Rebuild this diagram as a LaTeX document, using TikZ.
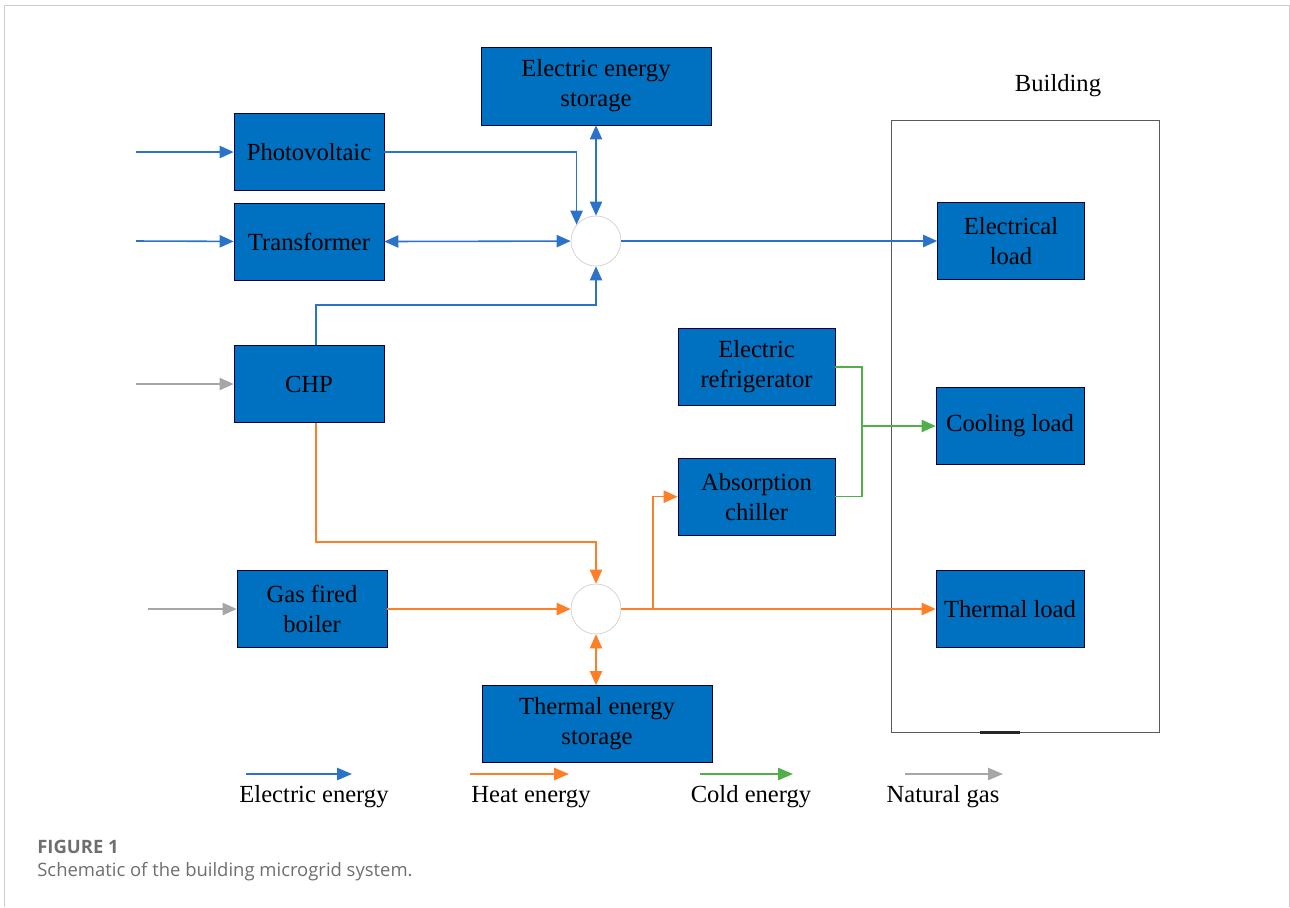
\documentclass[tikz,border=0pt]{standalone}
\usepackage{fontspec}
\setmainfont{Liberation Serif}
\newfontfamily\capfont{Open Sans}
\usetikzlibrary{positioning, arrows.meta, calc}
\definecolor{boxblue}{HTML}{0070C0}
\definecolor{elecblue}{HTML}{2A73C8}
\definecolor{heatorange}{HTML}{FF7F27}
\definecolor{coldgreen}{HTML}{52AE4A}
\definecolor{gasgray}{HTML}{A6A6A6}
\definecolor{capgray}{HTML}{6E6E6E}
\tikzset{
  block/.style={
    draw=black!75!blue,
    rectangle,
    minimum width=3cm,
    minimum height=1.54cm,
    align=center,
    inner sep=2pt,
    fill=boxblue,
    font=\fontsize{14}{17}\selectfont
  },
  hub/.style={
    draw=black!18,
    circle,
    fill=white,
    minimum size=1cm,
    inner sep=0pt
  },
  elec/.style={draw=elecblue, line width=0.9pt},
  heat/.style={draw=heatorange, line width=0.9pt},
  cold/.style={draw=coldgreen, line width=0.8pt},
  gas/.style={draw=gasgray, line width=0.9pt},
  legtip/.style={-{Triangle[length=8.5pt,width=7pt]}},
  legend/.style={font=\fontsize{14}{17}\selectfont}
}

\begin{document}
\begin{tikzpicture}[x=0.02cm, y=-0.02cm, >={Triangle[length=8pt,width=7pt]}]
        \useasboundingbox (0,0) rectangle (1290,907);
        \draw[black!20] (4,907) -- (4,5) -- (1289,5) -- (1289,907);

        % building
        \node[draw=black!65, rectangle, minimum width=5.36cm, minimum height=12.24cm] (bld) at (1025,426) {};
        \node[font=\fontsize{14}{17}\selectfont] (bldlabel) at (1058,86) {Building};
        \draw[black!85, line width=1.4pt] ($(bld.south)+(-45,0)$) -- ($(bld.south)+(-5,0)$);

        % sources
        \node[block] (pv) at (309,152) {Photovoltaic};
        \node[block, below=0.24cm of pv] (trans) {Transformer};
        \node[block] (chp) at (309,384) {CHP};
        \node[block] (boiler) at (312,609) {Gas fired\\boiler};
        \node[block, minimum width=4.6cm, minimum height=1.56cm] (estor) at (596,86) {Electric energy\\storage};
        \node[block, minimum width=4.6cm] (tstor) at (597,724) {Thermal energy\\storage};
        \node[block, minimum width=3.14cm] (fridge) at (756.5,367) {Electric\\refrigerator};
        \node[block, minimum width=3.14cm, below=1.04cm of fridge] (chiller) {Absorption\\chiller};

        % loads
        \node[block, minimum width=2.94cm] (eload) at (1011,241) {Electrical\\load};
        \node[block, minimum width=2.96cm] (cload) at (1010,426) {Cooling load};
        \node[block, minimum width=2.96cm] (tload) at (1010,609) {Thermal load};

        \node[hub] (ehub) at (596,241) {};
        \node[hub] (thub) at (596,609) {};

        \coordinate (pvin) at (136,152);
        \coordinate (trin) at (136,241);
        \coordinate (chpin) at (136,384);
        \coordinate (boilin) at (148,609);
        \coordinate (hb) at (653,609);
        \coordinate (cj) at (862,426);

        % electric energy
        \draw[elec, ->] (pvin) -- (pv);
        \draw[elec, ->] (trin) -- (trans);
        \draw[elec, ->] (pv.east) -| (ehub.140);
        \draw[elec, <->] (estor) -- (ehub);
        \draw[elec, <->] (trans) -- (ehub);
        \draw[elec, ->] ([xshift=0.14cm]chp.north) -- ++(0,-40) -| (ehub.south);
        \draw[elec, ->] (ehub) -- (eload);

        % heat energy
        \draw[heat, ->] ([xshift=0.14cm]chp.south) -- ++(0,119) -| (thub.north);
        \draw[heat, ->] (boiler) -- (thub);
        \draw[heat, <->] (thub) -- (thub.south |- tstor.north);
        \draw[heat, ->] (thub) -- (tload);
        \draw[heat, ->] (hb) |- (chiller.west);

        % cold energy
        \draw[cold] (fridge.east) -| (cj);
        \draw[cold] (chiller.east) -| (cj);
        \draw[cold, ->] (cj) -- (cload);

        % natural gas
        \draw[gas, ->] (chpin) -- (chp);
        \draw[gas, ->] (boilin) -- (boiler);

        % legend
        \coordinate (lg1a) at (246,774);
        \coordinate (lg1b) at (352,774);
        \coordinate (lg2a) at (470,774);
        \coordinate (lg2b) at (569,774);
        \coordinate (lg3a) at (700,774);
        \coordinate (lg3b) at (793,774);
        \coordinate (lg4a) at (905,774);
        \coordinate (lg4b) at (1003,774);
        \draw[elec, legtip] (lg1a) -- (lg1b);
        \draw[heat, legtip] (lg2a) -- (lg2b);
        \draw[cold, legtip] (lg3a) -- (lg3b);
        \draw[gas, legtip] (lg4a) -- (lg4b);
        \node[legend] (lg1) at (314,797) {Electric energy};
        \node[legend] (lg2) at (531,797) {Heat energy};
        \node[legend] (lg3) at (751,797) {Cold energy};
        \node[legend] (lg4) at (943,797) {Natural gas};

        % caption
        \node[anchor=base west, inner sep=0pt, text=capgray, font=\capfont\bfseries\fontsize{10.5}{13}\selectfont] (figno) at (37,853) {FIGURE 1};
        \node[anchor=base west, inner sep=0pt, text=capgray, font=\capfont\fontsize{10.5}{13}\selectfont] (figcap) at (37,876) {Schematic of the building microgrid system.};
      \end{tikzpicture}
\end{document}
